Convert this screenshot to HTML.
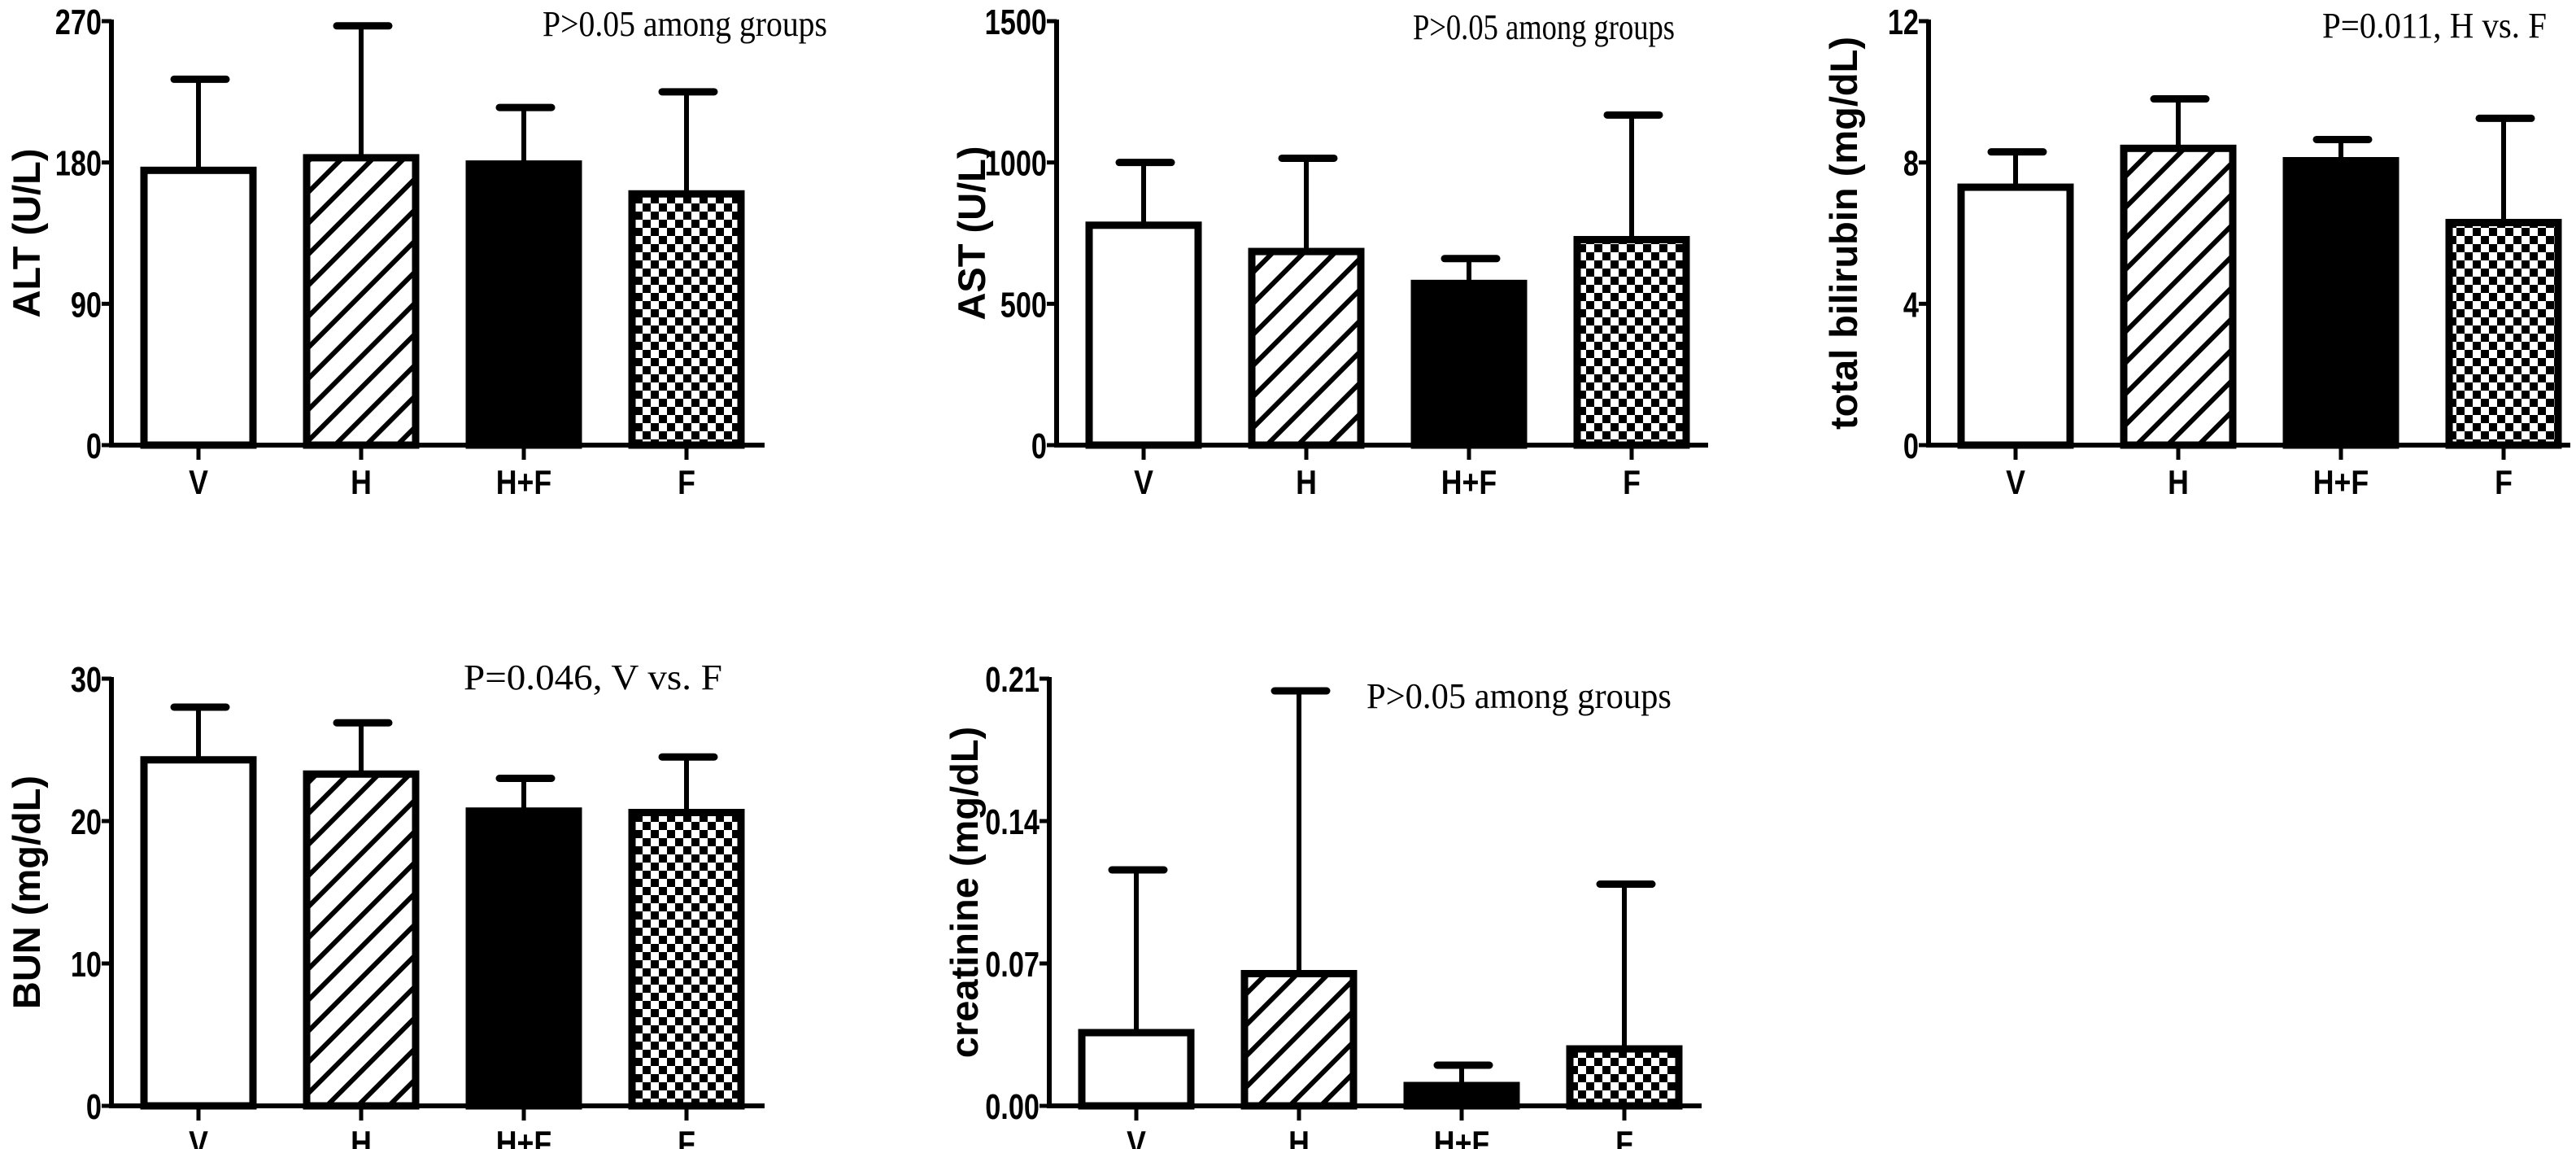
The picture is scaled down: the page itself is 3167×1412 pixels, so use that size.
<!DOCTYPE html>
<html><head><meta charset="utf-8"><style>
html,body{margin:0;padding:0;background:#fff;}
svg{display:block;}
.tick{font-family:"Liberation Sans",sans-serif;font-weight:bold;font-size:44px;}
.xtick{font-family:"Liberation Sans",sans-serif;font-weight:bold;font-size:42px;}
.ytitle{font-family:"Liberation Sans",sans-serif;font-weight:bold;font-size:47px;}
.note{font-family:"Liberation Serif",serif;font-size:44px;}
</style></head><body>
<svg id="fig" width="3167" height="1412" viewBox="0 0 3167 1412" xmlns="http://www.w3.org/2000/svg">
<defs>
<pattern id="hatch" patternUnits="userSpaceOnUse" width="27" height="27" patternTransform="rotate(45)">
<rect width="27" height="27" fill="#fff"/><rect x="0" y="0" width="6" height="27" fill="#000"/>
</pattern>
<pattern id="check" patternUnits="userSpaceOnUse" width="20" height="20">
<rect width="20" height="20" fill="#fff"/><rect x="0" y="0" width="10" height="10" fill="#000"/><rect x="10" y="10" width="10" height="10" fill="#000"/>
</pattern>
</defs>
</svg>
<script>
const categories = ["V","H","H+F","F"];
const altMeans = [175,183,179,160];
const altTops = [233,267,215,225];
const astMeans = [778,685,572,727];
const astTops = [1000,1015,660,1168];
const bilMeans = [7.3,8.4,8.05,6.3];
const bilTops = [8.3,9.8,8.65,9.25];
const bunMeans = [24.3,23.3,20.7,20.6];
const bunTops = [28,26.9,23,24.5];
const creMeans = [0.036,0.065,0.01,0.028];
const creTops = [0.116,0.204,0.02,0.109];
const altTicks = ["0","90","180","270"];
const astTicks = ["0","500","1000","1500"];
const bilTicks = ["0","4","8","12"];
const bunTicks = ["0","10","20","30"];
const creTicks = ["0.00","0.07","0.14","0.21"];

const NS="http://www.w3.org/2000/svg";
const svg=document.getElementById('fig');
const fills=["#fff","url(#hatch)","#000","url(#check)"];
function mk(tag,attrs,parent){const e=document.createElementNS(NS,tag);for(const k in attrs)e.setAttribute(k,attrs[k]);(parent||svg).appendChild(e);return e;}

function panel(key,ax,top,base,ticks,means,tops,title,note,noteX,noteY,noteW,axEnd){
  const g=mk('g',{});
  
  
  const tvals=ticks.map(Number);
  const ymax=tvals[tvals.length-1];
  const y=v=>base-(v/ymax)*(base-top);
  const x=i=>ax+40+i*200;
  const bw=134;
  means.forEach((m,i)=>{
    const cx=x(i)+bw/2;
    const e=mk('line',{x1:cx,x2:cx,y1:y(m),y2:y(tops[i]),stroke:'#000','stroke-width':6},g);
    
    
    const c=mk('line',{x1:cx-30,x2:cx+34,y1:y(tops[i]),y2:y(tops[i]),stroke:'#000','stroke-width':9,'stroke-linecap':'round'},g);
    
    
    const r=mk('rect',{x:x(i),y:y(m),width:bw,height:base-y(m),fill:fills[i],stroke:'#000','stroke-width':9},g);
    
    
  });
  const ya=mk('line',{x1:ax,x2:ax,y1:top-2,y2:base+3,stroke:'#000','stroke-width':6},g);
  
  
  const xa=mk('line',{x1:ax-3,x2:axEnd,y1:base,y2:base,stroke:'#000','stroke-width':6},g);
  
  
  tvals.forEach((v,i)=>{
    mk('line',{x1:ax-12,x2:ax,y1:y(v),y2:y(v),stroke:'#000','stroke-width':5},g);
    const t=mk('text',{x:ax-12,y:y(v)+16,'text-anchor':'end',class:'tick',transform:`translate(${ax-12},0) scale(0.78,1) translate(${-(ax-12)},0)`},g);
    t.textContent=ticks[i];
    
    
  });
  categories.forEach((c,i)=>{
    const cx=x(i)+bw/2;
    mk('line',{x1:cx,x2:cx,y1:base,y2:base+18,stroke:'#000','stroke-width':5},g);
    const t=mk('text',{x:cx,y:base+60,'text-anchor':'middle',class:'xtick',transform:`translate(${cx},0) scale(0.85,1) translate(${-cx},0)`},g);
    t.textContent=c;
    
    
  });
  const ty=(top+base)/2, tx=ax-88;
  const tt=mk('text',{x:tx,y:ty,'text-anchor':'middle',class:'ytitle',transform:`rotate(-90 ${tx} ${ty})`},g);
  tt.textContent=title;
  
  
  const n=mk('text',{x:noteX,y:noteY,class:'note',textLength:noteW,lengthAdjust:'spacingAndGlyphs'},g);
  n.textContent=note;
  
  
}
panel('alt',137,26,547,altTicks,altMeans,altTops,'ALT (U/L)','P>0.05 among groups',667,44,350,940);
panel('ast',1299,26,547,astTicks,astMeans,astTops,'AST (U/L)','P>0.05 among groups',1737,48,322,2100);
panel('bilirubin',2371,26,547,bilTicks,bilMeans,bilTops,'total bilirubin (mg/dL)','P=0.011, H vs. F',2855,46,276,3160);
panel('bun',137,834,1359,bunTicks,bunMeans,bunTops,'BUN (mg/dL)','P=0.046, V vs. F',570,847,318,940);
panel('creatinine',1290,834,1359,creTicks,creMeans,creTops,'creatinine (mg/dL)','P>0.05 among groups',1680,870,375,2092);
</script>
</body></html>
